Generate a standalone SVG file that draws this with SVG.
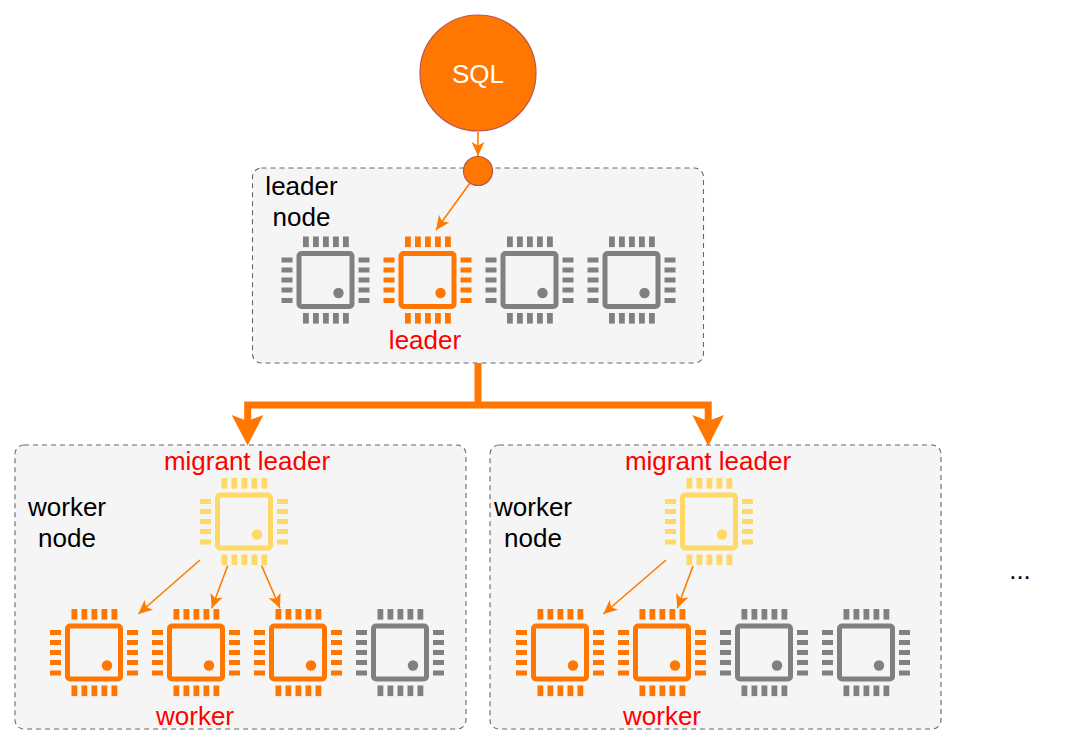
<svg xmlns="http://www.w3.org/2000/svg" xmlns:xlink="http://www.w3.org/1999/xlink" width="1080" height="745" viewBox="0 0 1080 745">
  <style>
    text { font-family: "Liberation Sans", Arial, sans-serif; font-size: 26px; text-anchor: middle; }
    .red { fill: #ff0000; }
    .box { fill: #f5f5f5; stroke: #666666; stroke-width: 1.1; stroke-dasharray: 5 4; }
    .ball { fill: #ff7700; stroke: #b85450; stroke-width: 1.2; }
    .thin { fill: none; stroke: #ff7a00; stroke-width: 1.6; }
    .thick { fill: none; stroke: #ff7700; stroke-width: 7; }
    .grey { color: #808080; }
    .orange { color: #ff7700; }
    .yellow { color: #ffd966; }
  </style>
  <defs>
    <marker id="tip" markerUnits="userSpaceOnUse" markerWidth="16" markerHeight="14" refX="14" refY="6.500" orient="auto" viewBox="0 0 16 14">
      <path d="M0 0 L14 6.500 L0 13 L3.500 6.500 Z" fill="#ff7a00"/>
    </marker>
    <!-- integrated circuit glyph centred on the origin; tinted through currentColor -->
    <g id="chip">
      <rect x="-26.500" y="-26.500" width="53" height="53" rx="2.500" fill="none" stroke="currentColor" stroke-width="5"/>
      <circle cx="13" cy="13" r="5.200" fill="currentColor"/>
      <g fill="currentColor">
        <rect x="-22.500" y="-43.500" width="5.800" height="10.600"/><rect x="-12.500" y="-43.500" width="5.800" height="10.600"/><rect x="-2.500" y="-43.500" width="5.800" height="10.600"/><rect x="7.500" y="-43.500" width="5.800" height="10.600"/><rect x="17.500" y="-43.500" width="5.800" height="10.600"/>
        <rect x="-22.500" y="33" width="5.800" height="10.600"/><rect x="-12.500" y="33" width="5.800" height="10.600"/><rect x="-2.500" y="33" width="5.800" height="10.600"/><rect x="7.500" y="33" width="5.800" height="10.600"/><rect x="17.500" y="33" width="5.800" height="10.600"/>
        <rect x="-44" y="-22.500" width="11" height="5"/><rect x="-44" y="-12.500" width="11" height="5"/><rect x="-44" y="-2.500" width="11" height="5"/><rect x="-44" y="7.500" width="11" height="5"/><rect x="-44" y="18" width="11" height="5"/>
        <rect x="33" y="-22.500" width="11" height="5"/><rect x="33" y="-12.500" width="11" height="5"/><rect x="33" y="-2.500" width="11" height="5"/><rect x="33" y="7.500" width="11" height="5"/><rect x="33" y="18" width="11" height="5"/>
      </g>
    </g>
  </defs>

  <g id="leader-node">
    <rect class="box" x="252.500" y="168" width="451" height="195" rx="9"/>
    <text x="301.500" y="195">leader</text>
    <text x="301.500" y="226">node</text>
  </g>
  <g id="worker-node-1">
    <rect class="box" x="15" y="445" width="451" height="284" rx="9"/>
    <text x="67" y="516">worker</text>
    <text x="67" y="547">node</text>
  </g>
  <g id="worker-node-2">
    <rect class="box" x="490" y="445" width="451" height="284" rx="9"/>
    <text x="533" y="516">worker</text>
    <text x="533" y="547">node</text>
  </g>

  <g id="sql"><circle class="ball" cx="478" cy="73" r="58"/><text x="478" y="83" fill="#ffffff">SQL</text></g>
  <g id="entry"><circle class="ball" cx="478" cy="171" r="14.500"/></g>

  <g id="connectors">
    <path class="thin" d="M478 132 L478 156" marker-end="url(#tip)"/>
    <path class="thin" d="M470 183 L436 230" marker-end="url(#tip)"/>
    <path class="thin" d="M200 560 L138.300 614" marker-end="url(#tip)"/>
    <path class="thin" d="M227.700 565.700 L211.700 608.300" marker-end="url(#tip)"/>
    <path class="thin" d="M261.700 565.700 L280 608.300" marker-end="url(#tip)"/>
    <path class="thin" d="M666 560 L603.300 614" marker-end="url(#tip)"/>
    <path class="thin" d="M693 566 L677.300 608.300" marker-end="url(#tip)"/>
    <path class="thick" d="M478 363 L478 405 M247.700 425 L247.700 405 L708.200 405 L708.200 425"/>
    <path d="M231.700 415 L247.600 421 L263.400 415 L247.600 445.500 Z" fill="#ff7700"/>
    <path d="M692.300 415 L708.200 421 L724 415 L708.200 446 Z" fill="#ff7700"/>
  </g>

  <use id="chip-l1" class="grey" xlink:href="#chip" href="#chip" x="325.500" y="280"/>
  <use id="chip-l2" class="orange" xlink:href="#chip" href="#chip" x="427.500" y="280"/>
  <use id="chip-l3" class="grey" xlink:href="#chip" href="#chip" x="529.500" y="280"/>
  <use id="chip-l4" class="grey" xlink:href="#chip" href="#chip" x="631.500" y="280"/>
  <use id="chip-m1" class="yellow" xlink:href="#chip" href="#chip" x="244" y="521.500"/>
  <use id="chip-m2" class="yellow" xlink:href="#chip" href="#chip" x="709" y="521.500"/>
  <use id="chip-a1" class="orange" xlink:href="#chip" href="#chip" x="94" y="652.500"/>
  <use id="chip-a2" class="orange" xlink:href="#chip" href="#chip" x="196" y="652.500"/>
  <use id="chip-a3" class="orange" xlink:href="#chip" href="#chip" x="298" y="652.500"/>
  <use id="chip-a4" class="grey" xlink:href="#chip" href="#chip" x="400" y="652.500"/>
  <use id="chip-b1" class="orange" xlink:href="#chip" href="#chip" x="560" y="652.500"/>
  <use id="chip-b2" class="orange" xlink:href="#chip" href="#chip" x="662" y="652.500"/>
  <use id="chip-b3" class="grey" xlink:href="#chip" href="#chip" x="764" y="652.500"/>
  <use id="chip-b4" class="grey" xlink:href="#chip" href="#chip" x="866" y="652.500"/>

  <g id="labels">
    <text class="red" x="425" y="349">leader</text>
    <text class="red" x="247" y="470">migrant leader</text>
    <text class="red" x="708" y="470">migrant leader</text>
    <text class="red" x="195" y="725">worker</text>
    <text class="red" x="662" y="725">worker</text>
    <text x="1020" y="579">...</text>
  </g>
</svg>
